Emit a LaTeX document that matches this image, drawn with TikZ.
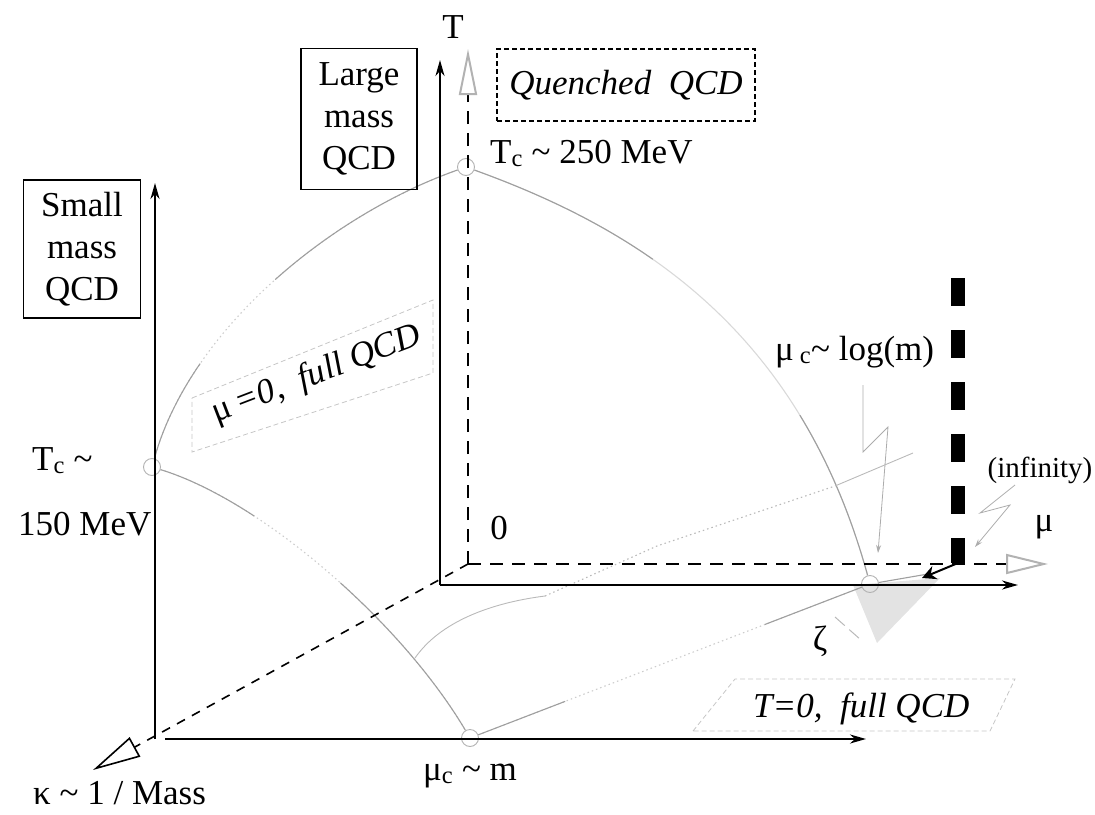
\documentclass[tikz,border=0pt]{standalone}
\usepackage{fontspec}
\setmainfont{Liberation Serif}
\usetikzlibrary{arrows.meta}

\tikzset{
  axis/.style={line width=2pt,-{Stealth[length=16pt,width=9pt,inset=5pt]}},
  dashaxis/.style={line width=2pt,dash pattern=on 13pt off 9pt},
  kdash/.style={line width=1.6pt,dash pattern=on 9pt off 8pt},
  crit/.style={draw=gray!75,line width=1.1pt},
  critfaint/.style={draw=gray!40,line width=1.1pt,dash pattern=on 1.5pt off 3pt},
  ring/.style={circle,draw=gray!60,line width=0.9pt,minimum size=17pt,inner sep=0pt},
  labelbox/.style={draw,line width=1.6pt,align=center,inner sep=0pt},
  region/.style={draw=gray!45,line width=0.8pt,dash pattern=on 5pt off 3pt},
  bolt/.style={draw=gray!65,line width=0.8pt,-{Stealth[length=8pt,width=5pt]}},
  lbl/.style={inner sep=0pt},
}

\begin{document}
\begin{tikzpicture}[x=1pt,y=1pt,yscale=-1,xscale=1,font=\fontsize{35}{42}\selectfont]
  \useasboundingbox (0,0) rectangle (1095,814);

  % axis end points
  \coordinate (ksmorigin) at (155,739);
  \coordinate (ksmtop) at (155,183);
  \coordinate (botstart) at (165,739);
  \coordinate (botend) at (866,739);
  \coordinate (solorigin) at (440,585);
  \coordinate (soltop) at (440,60);
  \coordinate (solright) at (1018,585);
  \coordinate (dashorigin) at (468,564);
  \coordinate (dashtop) at (468,49);
  \coordinate (dashright) at (1048,564);
  \coordinate (kappaend) at (93,770);
  \coordinate (inftop) at (958,278);
  \coordinate (infbot) at (958,563);
  \coordinate (inftip) at (922,578);

  % shaded zeta region
  \fill[gray!22] (853,585) -- (940,578) -- (877,643) -- cycle;

  % faint planes behind the labels
  \draw[region] (192,398) -- (433,300) -- (433,373) -- (192,452) -- cycle;
  \draw[region] (693,731) -- (735,679) -- (1015,679) -- (990,731) -- cycle;

  % critical points
  \node[ring] (ringhigh) at (466,167) {};
  \node[ring] (ringlow) at (152,467) {};
  \node[ring] (ringmuc) at (470,738) {};
  \node[ring] (ringlog) at (870,584) {};

  % critical lines
  \draw[critfaint] (ringhigh) .. controls (330,215) and (190,330) .. (ringlow);
  \draw[crit,dash pattern=on 214pt off 113pt on 400pt] (ringhigh) .. controls (330,215) and (190,330) .. (ringlow);
  \draw[critfaint] (ringlow) .. controls (260,500) and (400,620) .. (ringmuc);
  \draw[crit,dash pattern=on 105pt off 109pt on 400pt] (ringlow) .. controls (260,500) and (400,620) .. (ringmuc);
  \draw[crit,draw=gray!30] (ringhigh) .. controls (640,230) and (800,330) .. (ringlog);
  \draw[crit,dash pattern=on 200pt off 216pt on 400pt] (ringhigh) .. controls (640,230) and (800,330) .. (ringlog);
  \coordinate (dend) at (928,574);
  \draw[critfaint] (ringmuc) -- (ringlog);
  \draw[crit,dash pattern=on 93pt off 214pt on 300pt] (ringmuc) -- (ringlog);
  \draw[crit] (ringlog) -- (dend);

  % projected line
  \coordinate (branch) at (415,658);
  \coordinate (bend) at (545,596);
  \coordinate (emid) at (657,546);
  \coordinate (dotend) at (835,486);
  \coordinate (eend) at (913,453);
  \draw[crit,draw=gray!55,line width=0.9pt] (branch) .. controls (440,622) and (490,603) .. (bend);
  \draw[critfaint,draw=gray!55] (bend) -- (emid) -- (dotend);
  \draw[crit,draw=gray!55,line width=0.9pt] (dotend) -- (eend);

  % lightning arrows
  \coordinate (boltA1) at (863,385);
  \coordinate (boltA2) at (863,452);
  \coordinate (boltA3) at (888,427);
  \coordinate (boltA4) at (878,553);
  \draw[bolt] (boltA1) -- (boltA2) -- (boltA3) -- (boltA4);
  \coordinate (boltB1) at (1015,485);
  \coordinate (boltB2) at (980,513);
  \coordinate (boltB3) at (1010,505);
  \coordinate (boltB4) at (975,547);
  \draw[bolt] (boltB1) -- (boltB2) -- (boltB3) -- (boltB4);
  \coordinate (zetaA) at (835,617);
  \coordinate (zetaB) at (861,640);
  \draw[draw=gray!55,line width=1pt,dash pattern=on 13pt off 6pt] (zetaA) -- (zetaB);

  % axes
  \draw[axis] (ksmorigin) -- (ksmtop);
  \draw[axis] (botstart) -- (botend);
  \draw[axis] (solorigin) -- (soltop);
  \draw[axis] (solorigin) -- (solright);
  \draw[dashaxis,-{Triangle[open,length=46pt,width=18pt,color=gray!60]}] (dashorigin) -- (dashtop);
  \draw[dashaxis,-{Triangle[open,length=42pt,width=20pt,color=gray!60]}] (dashorigin) -- (dashright);
  \draw[kdash,-{Triangle[open,length=48pt,width=22pt]}] (dashorigin) -- (kappaend);

  % infinite mass line
  \draw[line width=14pt,dash pattern=on 28pt off 24pt] (inftop) -- (infbot);
  \draw[line width=2pt,-{Stealth[length=14pt,width=14pt]}] (infbot) -- (inftip);

  % boxes
  \node[labelbox,minimum width=116pt,minimum height=141pt] (largebox) at (359,119) {Large\\mass\\QCD};
  \node[labelbox,minimum width=117pt,minimum height=138pt] (smallbox) at (82,249) {Small\\mass\\QCD};
  \node[draw,line width=1.3pt,dash pattern=on 5pt off 3pt,minimum width=258pt,minimum height=72pt,inner sep=0pt] (quenched) at (626,85) {\itshape Quenched\ \ QCD};

  % labels
  \node[lbl] (taxis) at (453,27) {T};
  \node[lbl] (zero) at (499,528) {0};
  \node[lbl] (muaxis) at (1044,527) {μ};
  \node[lbl] (zeta) at (820,641) {ζ};
  \node[lbl,font=\fontsize{29}{32}\selectfont] (infty) at (1040,470) {(infinity)};
  \node[lbl,anchor=base west] (tchigh) at (490,163) {T\textsubscript{c} \textasciitilde{} 250 MeV};
  \node[lbl,anchor=base west] (mulogm) at (775,360) {μ\,\textsubscript{c}\textasciitilde{} log(m)};
  \node[lbl,anchor=base west] (mucm) at (423,780) {μ\textsubscript{c} \textasciitilde{} m};
  \node[lbl,anchor=base west] (kappa) at (33,804) {κ \textasciitilde{} 1 / Mass};
  \node[lbl,anchor=base west] (tclow) at (32,470) {T\textsubscript{c} \textasciitilde};
  \node[lbl,anchor=base west] (tclowval) at (18,535) {150 MeV};
  \node[lbl,anchor=base west] (tzero) at (753,717) {\itshape T=0,\ \ full QCD};
  \node[lbl,rotate=21] (muzero) at (317,375) {μ\,\itshape =0,\ \ full QCD};
\end{tikzpicture}
\end{document}
